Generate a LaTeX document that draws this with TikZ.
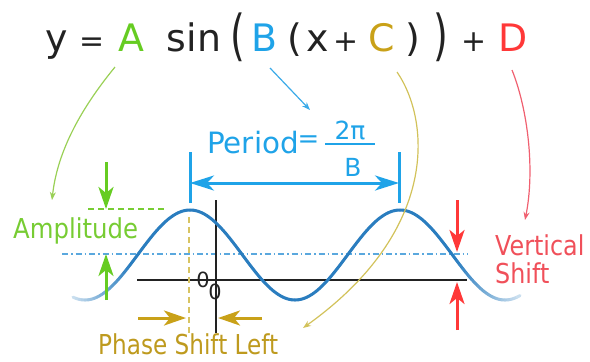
\documentclass[tikz,border=0pt]{standalone}
\usepackage{fontspec}
\setmainfont{DejaVu Sans}
\usetikzlibrary{arrows.meta}
\definecolor{ink}{HTML}{222222}
\definecolor{cA}{HTML}{66CC22}
\definecolor{cAl}{HTML}{77CC33}
\definecolor{cAthin}{HTML}{99D055}
\definecolor{cB}{HTML}{1FA3E8}
\definecolor{cBthin}{HTML}{3AAAE8}
\definecolor{cC}{HTML}{C9A118}
\definecolor{cCl}{HTML}{BE9A1E}
\definecolor{cCthin}{HTML}{D2C25A}
\definecolor{cCdash}{HTML}{D8C462}
\definecolor{cD}{HTML}{FF3838}
\definecolor{cDl}{HTML}{F0505A}
\definecolor{cDthin}{HTML}{F06070}
\definecolor{wave}{HTML}{2A7DBF}
\definecolor{midc}{HTML}{5AA8DE}
\tikzset{
  eq/.style={anchor=base, inner sep=0pt, font=\fontsize{38}{40}\selectfont, text=ink},
  eqop/.style={anchor=base, inner sep=0pt, font=\fontsize{30}{32}\selectfont, text=ink},
  eqbig/.style={anchor=center, inner sep=0pt, font=\fontsize{38}{40}\selectfont, text=ink},
  lbl/.style={anchor=base west, inner sep=0pt, font=\fontsize{27.5}{30}\selectfont},
  bigarrow/.style={line width=3bp, -{Stealth[length=22bp,width=15bp,inset=6bp]}},
  periodarrow/.style={line width=3bp, {Stealth[length=24bp,width=15bp,inset=7bp]}-{Stealth[length=24bp,width=15bp,inset=7bp]}},
  thinarrow/.style={line width=1.2bp, -{Stealth[length=8bp,width=6bp]}},
  zero/.style={inner sep=0pt, font=\fontsize{21}{22}\selectfont, text=ink},
  frac/.style={anchor=base, inner sep=0pt, text=cB, font=\fontsize{25}{27}\selectfont}
}
\begin{document}
\begin{tikzpicture}[x=1bp,y=-1bp]
\useasboundingbox (0,0) rectangle (590,361);

% equation
\node[eq] (ey) at (57,51) {y};
\node[eqop] (eeq) at (92.5,51) {=};
\node[eq,text=cA] (eA) at (131,51) {A};
\node[eq] (esin) at (194,51) {sin};
\node[eqbig] (ep1) at (237.5,37) {\scalebox{1}[1.45]{(}};
\node[eq,text=cB] (eB) at (264,51) {B};
\node[eq] (ep2) at (295,51) {(};
\node[eq] (ex) at (317.5,51) {x};
\node[eqop] (eplus) at (346.5,51) {+};
\node[eq,text=cC] (eC) at (381.5,51) {C};
\node[eq] (ep3) at (412.5,51) {)};
\node[eqbig] (ep4) at (441,37) {\scalebox{1}[1.45]{)}};
\node[eqop] (eplus2) at (474,51) {+};
\node[eq,text=cD] (eD) at (513.5,51) {D};

% period label
\node[lbl,text=cB,font=\fontsize{29.5}{31}\selectfont] (per) at (207,153) {Period};
\node[inner sep=0pt,text=cB,font=\fontsize{26}{28}\selectfont] (pereq) at (308.5,142) {=};
\node[frac] (num) at (350,139) {2π};
\node[frac] (den) at (353,176) {B};
\draw[cB,line width=2bp] (325,144) -- (375,144);

% midline
\draw[midc,line width=1.6bp,dash pattern=on 6bp off 3bp on 1.5bp off 3bp] (62,254) -- (468,254);

% axes
\draw[ink,line width=2.5bp] (137,280) -- (467,280);
\draw[ink,line width=2.5bp] (216,200) -- (216,333);
\node[zero] (z1) at (203,280) {0};
\node[zero] (z2) at (215,292) {0};

% amplitude dashed
\draw[cAl,line width=2bp,dash pattern=on 6bp off 4bp] (88,209) -- (167,209);
% phase dashed
\draw[cCdash,line width=2bp,dash pattern=on 6bp off 4bp] (189,217) -- (189,333);

% wave with faded ends
\foreach \i in {0,...,148} {
  \pgfmathsetmacro\xa{73+3*\i}
  \pgfmathsetmacro\xb{\xa+3}
  \pgfmathtruncatemacro\wp{\xa<130 ? 25+(\xa-73)/57*75 : (\xa>455 ? 100-(\xa-455)/65*78 : 100)}
  \draw[wave!\wp!white, line width=3bp, line cap=round] plot[domain=\xa:\xb, samples=3] (\x,{255-45*cos((\x-190)*1.7142857)});
}

% period ticks and arrow
\draw[cB,line width=3bp] (190,152) -- (190,203);
\draw[cB,line width=3bp] (399,152) -- (399,203);
\coordinate (pl) at (190,183);
\coordinate (pr) at (399,183);
\draw[cB,periodarrow] (pl) -- (pr);

% amplitude arrows
\coordinate (ad0) at (106,162); \coordinate (ad1) at (106,209);
\coordinate (au0) at (106,300); \coordinate (au1) at (106,254);
\draw[cA,bigarrow] (ad0) -- (ad1);
\draw[cA,bigarrow] (au0) -- (au1);
\node[lbl,text=cAl] (amp) at (13,238) {\scalebox{0.89}[1]{Amplitude}};

% vertical shift arrows
\coordinate (vd0) at (457,200); \coordinate (vd1) at (457,252);
\coordinate (vu0) at (457,330); \coordinate (vu1) at (457,282);
\draw[cD,bigarrow] (vd0) -- (vd1);
\draw[cD,bigarrow] (vu0) -- (vu1);
\node[lbl,text=cDl] (vert) at (495,255) {\scalebox{0.87}[1]{Vertical}};
\node[lbl,text=cDl] (shift) at (495,283) {\scalebox{0.87}[1]{Shift}};

% phase shift arrows
\coordinate (pr0) at (138,318); \coordinate (pr1) at (186,318);
\coordinate (pq0) at (262,318); \coordinate (pq1) at (218,318);
\draw[cC,bigarrow] (pr0) -- (pr1);
\draw[cC,bigarrow] (pq0) -- (pq1);
\node[lbl,text=cCl] (phase) at (98,354) {\scalebox{0.845}[1]{Phase Shift Left}};

% thin pointer curves
\coordinate (gs) at (115,67); \coordinate (ge) at (52,200);
\draw[cAthin,thinarrow] (gs) .. controls (88,100) and (58,145) .. (ge);
\coordinate (bs) at (270,68); \coordinate (be) at (310,110);
\draw[cBthin,thinarrow] (bs) -- (be);
\coordinate (cs) at (397,72); \coordinate (ce) at (303,328);
\draw[cCthin,thinarrow] (cs) .. controls (430,120) and (440,230) .. (ce);
\coordinate (ds) at (512,70); \coordinate (de) at (525,220);
\draw[cDthin,thinarrow] (ds) .. controls (528,110) and (535,170) .. (de);
\end{tikzpicture}
\end{document}
